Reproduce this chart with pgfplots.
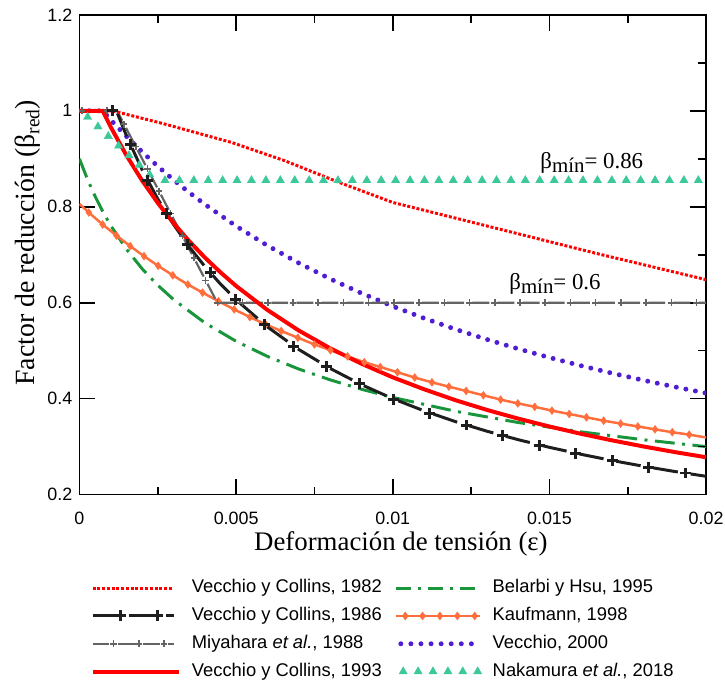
\documentclass[border=0pt]{standalone}
\usepackage{pgfplots}
\pgfplotsset{compat=1.18}
\usepackage{fontspec}
\setmainfont{Liberation Sans}
\newfontfamily\serif{Liberation Serif}
\definecolor{cred}{RGB}{255,0,0}
\definecolor{cblack}{RGB}{30,30,30}
\definecolor{cgray}{RGB}{100,100,100}
\definecolor{cgreen}{RGB}{25,150,60}
\definecolor{corange}{RGB}{255,110,60}
\definecolor{cpurple}{RGB}{80,30,210}
\definecolor{cteal}{RGB}{60,200,155}
\begin{document}
\begin{tikzpicture}
\begin{axis}[
  scale only axis, width=631pt, height=483pt,
  xmin=0, xmax=0.02, ymin=0.2, ymax=1.2,
  xtick={0,0.005,0.01,0.015,0.02}, xticklabels={0,0.005,0.01,0.015,0.02},
  minor x tick num=1,
  ytick={0.2,0.4,0.6,0.8,1,1.2}, yticklabels={0.2,0.4,0.6,0.8,1,1.2},
  tick align=inside,
  major tick length=16pt, minor tick length=8pt,
  tick style={black, line width=1.6pt},
  axis line style={black, line width=1.8pt},
  tick label style={font=\fontsize{18}{20}\selectfont, inner sep=0pt},
  xticklabel shift=17pt,
  yticklabel shift=7pt,
  scaled x ticks=false,
  xlabel={\serif\fontsize{27}{30}\selectfont Deformación de tensión (ε)},
  ylabel={\serif\fontsize{28}{30}\selectfont Factor de reducción (β\textsubscript{red})},
  xlabel style={at={(axis description cs:0.513,0)}, anchor=north, inner sep=0pt, yshift=-37pt},
  ylabel style={at={(axis description cs:-0.062,0.525)}, anchor=south, inner sep=0pt},
  legend columns=2,
  legend cell align=left,
  legend style={draw=none, fill=none, at={(axis description cs:0,0)}, anchor=north west,
    xshift=8pt, yshift=-83.5pt, font=\fontsize{18.5}{20}\selectfont, row sep=11pt,
    nodes={inner sep=0pt, text height=13pt, text depth=4pt},
    /tikz/every even column/.append style={column sep=13pt},
    /tikz/every odd column/.append style={column sep=11pt}},
]
% Nakamura et al. 2018
\addplot[forget plot, only marks, mark=triangle*, mark size=4.8pt, cteal, mark options={draw=cteal, fill=cteal}] coordinates {
(0.00026,0.987) (0.00059,0.967) (0.00092,0.947) (0.00125,0.927) (0.00158,0.907) (0.00191,0.887) (0.00224,0.867)
(0.00273,0.855) (0.00319,0.855) (0.00365,0.855) (0.00411,0.855) (0.00457,0.855) (0.00503,0.855) (0.00549,0.855)
(0.00595,0.855) (0.00641,0.855) (0.00687,0.855) (0.00733,0.855) (0.00779,0.855) (0.00825,0.855) (0.00871,0.855)
(0.00917,0.855) (0.00963,0.855) (0.01009,0.855) (0.01055,0.855) (0.01101,0.855) (0.01147,0.855) (0.01193,0.855)
(0.01239,0.855) (0.01285,0.855) (0.01331,0.855) (0.01377,0.855) (0.01423,0.855) (0.01469,0.855) (0.01515,0.855)
(0.01561,0.855) (0.01607,0.855) (0.01653,0.855) (0.01699,0.855) (0.01745,0.855) (0.01791,0.855) (0.01837,0.855)
(0.01883,0.855) (0.01929,0.855) (0.01975,0.855)};
% Vecchio 2000
\addplot[forget plot, no markers, cpurple, line width=5pt, line cap=round, dash pattern=on 0pt off 9.8pt] coordinates {
(0,1) (0.00074,1) (0.001,0.981) (0.0015,0.9466) (0.002,0.9144) (0.0025,0.8844) (0.003,0.8563) (0.0035,0.8299)
(0.004,0.8051) (0.005,0.7597) (0.006,0.7191) (0.007,0.6827) (0.008,0.6497) (0.009,0.6198) (0.01,0.5926)
(0.011,0.5676) (0.012,0.5446) (0.013,0.5235) (0.014,0.5039) (0.015,0.4857) (0.016,0.4688) (0.017,0.4530)
(0.018,0.4383) (0.019,0.4245) (0.02,0.4115)};
% Belarbi y Hsu 1995
\addplot[forget plot, no markers, cgreen, line width=3pt, dash pattern=on 20pt off 7.5pt on 3pt off 7.5pt] coordinates {
(0,0.9) (0.00025,0.8581) (0.0005,0.8216) (0.00075,0.7894) (0.001,0.7606) (0.0015,0.7115) (0.002,0.6708)
(0.0025,0.6364) (0.003,0.6068) (0.004,0.5581) (0.005,0.5196) (0.006,0.4881) (0.007,0.4617) (0.008,0.4392)
(0.009,0.4196) (0.01,0.4025) (0.012,0.3737) (0.014,0.3503) (0.016,0.3308) (0.018,0.3143) (0.02,0.3)};
% Kaufmann 1998
\addplot[forget plot, no markers, corange, line width=2.5pt] coordinates {
(0,0.806) (0.0003,0.788) (0.00074,0.763) (0.00118,0.740) (0.00162,0.718) (0.00206,0.697) (0.00251,0.677)
(0.00298,0.657) (0.00346,0.638) (0.00393,0.621) (0.00444,0.603) (0.00494,0.586) (0.00544,0.570) (0.00594,0.555)
(0.00644,0.541) (0.00697,0.527) (0.00750,0.513) (0.00801,0.501) (0.00856,0.488) (0.00909,0.476) (0.00960,0.466)
(0.01015,0.455) (0.01070,0.444) (0.01125,0.434) (0.01179,0.425) (0.01234,0.416) (0.01289,0.407) (0.01344,0.398)
(0.01399,0.390) (0.01453,0.383) (0.01508,0.375) (0.01563,0.368) (0.01618,0.361) (0.01673,0.354) (0.01727,0.348)
(0.01782,0.342) (0.01837,0.336) (0.01892,0.330) (0.01946,0.325) (0.02,0.319)};
\addplot[forget plot, only marks, mark=diamond*, mark size=4pt, mark options={draw=corange, fill=corange}] coordinates {
(0.0003,0.788) (0.00074,0.763) (0.00118,0.740) (0.00162,0.718) (0.00206,0.697) (0.00251,0.677)
(0.00298,0.657) (0.00346,0.638) (0.00393,0.621) (0.00444,0.603) (0.00494,0.586) (0.00544,0.570) (0.00594,0.555)
(0.00644,0.541) (0.00697,0.527) (0.00750,0.513) (0.00801,0.501) (0.00856,0.488) (0.00909,0.476) (0.00960,0.466)
(0.01015,0.455) (0.01070,0.444) (0.01125,0.434) (0.01179,0.425) (0.01234,0.416) (0.01289,0.407) (0.01344,0.398)
(0.01399,0.390) (0.01453,0.383) (0.01508,0.375) (0.01563,0.368) (0.01618,0.361) (0.01673,0.354) (0.01727,0.348)
(0.01782,0.342) (0.01837,0.336) (0.01892,0.330) (0.01946,0.325)};
% Miyahara et al. 1988
\addplot[forget plot, no markers, cgray, line width=2.2pt, dash pattern=on 17pt off 8.3pt, dash phase=18.65pt] coordinates {
(0,1) (0.0012,1) (0.0044,0.6) (0.02,0.6)};
\addplot[forget plot, only marks, mark=+, mark size=3.4pt, mark options={draw=cgray, line width=1.6pt}] coordinates {
(0.00008,1) (0.00088,1) (0.001424,0.972) (0.001796,0.9255) (0.002168,0.879) (0.00254,0.8325) (0.002912,0.786)
(0.003284,0.7395) (0.003656,0.693) (0.004028,0.6465) (0.0044,0.6) (0.005205,0.6) (0.00601,0.6) (0.006815,0.6)
(0.00762,0.6) (0.008425,0.6) (0.00923,0.6) (0.010035,0.6) (0.01084,0.6) (0.011645,0.6) (0.01245,0.6)
(0.013255,0.6) (0.01406,0.6) (0.014865,0.6) (0.01567,0.6) (0.016475,0.6) (0.01728,0.6) (0.018085,0.6)
(0.01889,0.6) (0.019695,0.6)};
% Vecchio y Collins 1986
\addplot[forget plot, no markers, cblack, line width=3pt, dash pattern=on 25pt off 13pt, dash phase=36.1pt] coordinates {
(0,1) (0.00118,1) (0.0015,0.9479) (0.002,0.8772) (0.0025,0.8163) (0.003,0.7634) (0.0035,0.7168) (0.004,0.6757)
(0.0045,0.6390) (0.005,0.6061) (0.006,0.5495) (0.007,0.5025) (0.008,0.4630) (0.009,0.4292) (0.01,0.4)
(0.011,0.3745) (0.012,0.3521) (0.013,0.3322) (0.014,0.3145) (0.015,0.2985) (0.016,0.2841) (0.017,0.2710)
(0.018,0.2591) (0.019,0.2481) (0.02,0.2381)};
\addplot[forget plot, only marks, mark=+, mark size=5.5pt, mark options={draw=cblack, line width=3pt}] coordinates {
(0.00106,1) (0.00162,0.930) (0.00218,0.854) (0.00278,0.786) (0.00344,0.722) (0.00417,0.663) (0.00499,0.607)
(0.00592,0.554) (0.00684,0.509) (0.00789,0.467) (0.00895,0.431) (0.01002,0.399) (0.01118,0.370) (0.01235,0.345)
(0.01351,0.323) (0.01468,0.303) (0.01584,0.286) (0.01700,0.271) (0.01817,0.257) (0.01933,0.245)};
% Vecchio y Collins 1993
\addplot[forget plot, no markers, cred, line width=4pt] coordinates {
(0,1) (0.00074,1) (0.001,0.9661) (0.0015,0.9070) (0.002,0.8546) (0.0025,0.8080) (0.003,0.7662) (0.0035,0.7285)
(0.004,0.6944) (0.0045,0.6633) (0.005,0.6349) (0.006,0.5848) (0.007,0.5420) (0.008,0.5050) (0.009,0.4728) (0.01,0.4444)
(0.011,0.4195) (0.012,0.3968) (0.013,0.3766) (0.014,0.3584) (0.015,0.3419) (0.016,0.3268) (0.017,0.3130)
(0.018,0.3003) (0.019,0.2886) (0.02,0.2778)};
% Vecchio y Collins 1982
\addplot[forget plot, no markers, cred, line width=3pt, dash pattern=on 3pt off 1.8pt] coordinates {
(0,1) (0.00106,1) (0.00275,0.972) (0.00486,0.934) (0.00655,0.896) (0.00824,0.852) (0.0100,0.809)
(0.01331,0.755) (0.01648,0.703) (0.02,0.648)};
% annotations
\node[anchor=base west, inner sep=0pt, font=\serif\fontsize{23}{25}\selectfont] at (axis cs:0.014707,0.8805) {β\raisebox{-4pt}{\fontsize{21}{22}\selectfont mín}= 0.86};
\node[anchor=base west, inner sep=0pt, font=\serif\fontsize{23}{25}\selectfont] at (axis cs:0.013715,0.6271) {β\raisebox{-4pt}{\fontsize{21}{22}\selectfont mín}= 0.6};
% legend
\addlegendimage{legend image code/.code={\draw[cred, line width=3pt, dash pattern=on 3pt off 1.8pt] (0pt,0pt) -- (80pt,0pt);}}
\addlegendentry{Vecchio y Collins, 1982}
\addlegendimage{legend image code/.code={\draw[cgreen, line width=3pt, dash pattern=on 15pt off 7pt on 3pt off 7pt] (0pt,0pt) -- (84pt,0pt);}}
\addlegendentry{Belarbi y Hsu, 1995}
\addlegendimage{legend image code/.code={\draw[cblack, line width=3pt, dash pattern=on 23pt off 14pt] (0pt,0pt) -- (82pt,0pt);
  \draw[cblack, line width=3pt] plot[only marks, mark=+, mark size=5.5pt] coordinates {(28pt,0pt) (65pt,0pt)};}}
\addlegendentry{Vecchio y Collins, 1986}
\addlegendimage{legend image code/.code={\draw[corange, line width=2.5pt] (0pt,0pt) -- (84pt,0pt);
  \draw[corange, fill=corange] plot[only marks, mark=diamond*, mark size=4pt] coordinates {(9pt,0pt) (26.5pt,0pt) (44pt,0pt) (61.5pt,0pt) (79pt,0pt)};}}
\addlegendentry{Kaufmann, 1998}
\addlegendimage{legend image code/.code={\draw[cgray, line width=2.2pt, dash pattern=on 17pt off 8.3pt] (0pt,0pt) -- (82pt,0pt);
  \draw[cgray, line width=1.6pt] plot[only marks, mark=+, mark size=3.4pt] coordinates {(21pt,0pt) (46.5pt,0pt) (72pt,0pt)};}}
\addlegendentry{Miyahara \textit{et al.}, 1988}
\addlegendimage{legend image code/.code={\draw[cpurple, line width=5pt, line cap=round, dash pattern=on 0pt off 10.15pt] (4.6pt,0pt) -- (76pt,0pt);}}
\addlegendentry{Vecchio, 2000}
\addlegendimage{legend image code/.code={\draw[cred, line width=4pt] (0pt,0pt) -- (87pt,0pt);}}
\addlegendentry{Vecchio y Collins, 1993}
\addlegendimage{legend image code/.code={\draw[cteal, fill=cteal] plot[only marks, mark=triangle*, mark size=4.8pt] coordinates {(7pt,0pt) (22pt,0pt) (37pt,0pt) (52pt,0pt) (67pt,0pt) (82pt,0pt)};}}
\addlegendentry{Nakamura \textit{et al.}, 2018}
\end{axis}
\begin{axis}[scale only axis, width=631pt, height=483pt, xmin=0, xmax=0.02, ymin=0.2, ymax=1.2,
  xtick=\empty, ytick={0.3,0.5,0.7,0.9,1.1}, yticklabels={}, ytick pos=right, tick align=inside,
  major tick length=8pt, tick style={black, line width=1.6pt}, axis line style={draw=none}]
\end{axis}
\pgfresetboundingbox
\path ([shift={(-80pt,-189pt)}]current axis.south west) rectangle ([shift={(19pt,15pt)}]current axis.north east);
\end{tikzpicture}
\end{document}
